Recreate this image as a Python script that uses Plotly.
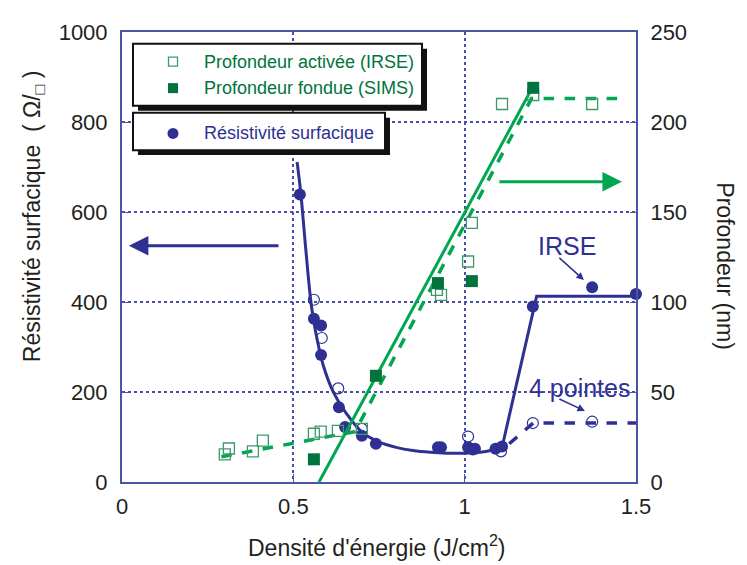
import plotly.graph_objects as go

# --- data ------------------------------------------------------------------
# sheet resistance, filled circles (IRSE)  [left axis, ohm/sq]
res_x = [0.519, 0.560, 0.581, 0.581, 0.633, 0.651, 0.700, 0.741, 0.922, 0.931,
         1.010, 1.024, 1.030, 1.090, 1.109, 1.199, 1.372, 1.500]
res_y = [639, 363, 348, 282, 166, 122, 103, 85, 77, 77,
         77, 72, 74, 74, 79, 390, 433, 418]

# sheet resistance, open circles (4 pointes)
res4_x = [0.560, 0.583, 0.631, 0.700, 1.010, 1.106, 1.199, 1.372]
res4_y = [405, 320, 208, 118, 101, 68, 131, 134]

# fitted curve for resistivity
curve_x = [0.511, 0.522, 0.536, 0.553, 0.570, 0.587, 0.616, 0.656, 0.703, 0.753,
           0.800, 0.849, 0.900, 0.948, 1.000, 1.045, 1.075, 1.110]
curve_y = [711, 640, 520, 390, 315, 260, 201, 151, 109, 88,
           77, 70, 66, 64, 64, 66, 70, 80]
step_x = [1.110, 1.210, 1.500]
step_y = [80, 413, 413]
step4_x = [1.130, 1.200, 1.500]
step4_y = [85, 131, 131]

# depth, open squares (IRSE)  [right axis, nm]
act_x = [0.300, 0.312, 0.382, 0.411, 0.560, 0.580, 0.630, 0.700, 0.919, 0.931,
         1.010, 1.021, 1.109, 1.200, 1.372]
act_y = [15.3, 18.6, 17, 23, 26.8, 28, 28.4, 29.5, 106.7, 104,
         122.5, 144, 210, 215, 210]

# depth, filled squares (SIMS)
melt_x = [0.560, 0.741, 0.922, 1.021, 1.200]
melt_y = [12.6, 59, 110.5, 111.6, 219]

# guide lines for depth
melt_line_x = [0.575, 1.200]
melt_line_y = [0, 220]
act_line_x = [0.290, 0.680, 1.195, 1.460]
act_line_y = [14, 28, 213, 213]

BLUE = '#2E3192'
GREEN = '#00A650'
DKGREEN = '#00743C'
SQGREEN = '#3C9A6A'
GRID = '#4650A8'
FONT = 'Liberation Sans, Arial, sans-serif'

fig = go.Figure()

# resistivity curves
fig.add_trace(go.Scatter(x=curve_x, y=curve_y, mode='lines', line=dict(color=BLUE, width=3, shape='spline'),
                         hoverinfo='skip'))
fig.add_trace(go.Scatter(x=step_x, y=step_y, mode='lines', line=dict(color=BLUE, width=3), hoverinfo='skip'))
fig.add_trace(go.Scatter(x=step4_x, y=step4_y, mode='lines', line=dict(color=BLUE, width=3.5, dash='dash'),
                         hoverinfo='skip'))

# depth lines
fig.add_trace(go.Scatter(x=act_line_x, y=act_line_y, yaxis='y2', mode='lines',
                         line=dict(color=GREEN, width=3.5, dash='dash'), hoverinfo='skip'))
fig.add_trace(go.Scatter(x=melt_line_x, y=melt_line_y, yaxis='y2', mode='lines',
                         line=dict(color=GREEN, width=3), hoverinfo='skip'))

# depth markers
fig.add_trace(go.Scatter(x=act_x, y=act_y, yaxis='y2', mode='markers', cliponaxis=False,
                         marker=dict(symbol='square-open', size=11, color=SQGREEN, line=dict(width=1.3))))
fig.add_trace(go.Scatter(x=melt_x, y=melt_y, yaxis='y2', mode='markers', cliponaxis=False,
                         marker=dict(symbol='square', size=12, color=DKGREEN)))

# resistivity markers
fig.add_trace(go.Scatter(x=res4_x, y=res4_y, mode='markers', cliponaxis=False,
                         marker=dict(symbol='circle-open', size=11, color=BLUE, line=dict(width=1.2))))
fig.add_trace(go.Scatter(x=res_x, y=res_y, mode='markers', cliponaxis=False,
                         marker=dict(symbol='circle', size=12, color=BLUE)))

# plot area in page pixels: x 122..636, y 25..482
def px(x):
    return (x - 122) / 514.0


def py(y):
    return (482 - y) / 457.0


shapes = []
# legend boxes with drop shadows
for (x0, y0, x1, y1) in [(133, 37, 422, 100), (133, 107, 385, 145)]:
    shapes.append(dict(type='rect', xref='paper', yref='paper', x0=px(x0 + 5), x1=px(x1 + 5),
                       y0=py(y1 + 5), y1=py(y0 + 5), fillcolor='#111111', line=dict(width=0)))
    shapes.append(dict(type='rect', xref='paper', yref='paper', x0=px(x0), x1=px(x1),
                       y0=py(y1), y1=py(y0), fillcolor='white', line=dict(color='#111111', width=2)))
# legend symbols
shapes.append(dict(type='rect', xref='paper', yref='paper', xsizemode='pixel', ysizemode='pixel',
                   xanchor=px(173), yanchor=py(55), x0=-4.5, x1=4.5, y0=-4.5, y1=4.5,
                   fillcolor='white', line=dict(color=SQGREEN, width=1.3)))
shapes.append(dict(type='rect', xref='paper', yref='paper', xsizemode='pixel', ysizemode='pixel',
                   xanchor=px(173), yanchor=py(82), x0=-5, x1=5, y0=-5, y1=5,
                   fillcolor=DKGREEN, line=dict(width=0)))
shapes.append(dict(type='circle', xref='paper', yref='paper', xsizemode='pixel', ysizemode='pixel',
                   xanchor=px(173), yanchor=py(128), x0=-5.5, x1=5.5, y0=-5.5, y1=5.5,
                   fillcolor=BLUE, line=dict(width=0)))

annotations = [
    dict(text='Profondeur activée (IRSE)', x=px(202), y=py(55), xref='paper', yref='paper',
         xanchor='left', yanchor='middle', showarrow=False, font=dict(size=18, color=DKGREEN)),
    dict(text='Profondeur fondue (SIMS)', x=px(202), y=py(82), xref='paper', yref='paper',
         xanchor='left', yanchor='middle', showarrow=False, font=dict(size=18, color=DKGREEN)),
    dict(text='Résistivité surfacique', x=px(202), y=py(128), xref='paper', yref='paper',
         xanchor='left', yanchor='middle', showarrow=False, font=dict(size=18, color=BLUE)),
    # big direction arrows
    dict(x=0.02, y=525, ax=0.461, ay=525, xref='x', yref='y', axref='x', ayref='y', text='',
         showarrow=True, arrowhead=2, arrowsize=1.3, arrowwidth=3, arrowcolor=BLUE),
    dict(x=1.459, y=667, ax=1.097, ay=667, xref='x', yref='y', axref='x', ayref='y', text='',
         showarrow=True, arrowhead=2, arrowsize=1.3, arrowwidth=3, arrowcolor=GREEN),
    # labels with pointers
    dict(x=1.348, y=449, ax=1.272, ay=501, xref='x', yref='y', axref='x', ayref='y', text='',
         showarrow=True, arrowhead=2, arrowsize=1, arrowwidth=1.5, arrowcolor=BLUE),
    dict(text='IRSE', x=1.30, y=524, xref='x', yref='y', showarrow=False,
         xanchor='center', yanchor='middle', font=dict(size=25, color=BLUE)),
    dict(x=1.351, y=158, ax=1.272, ay=186, xref='x', yref='y', axref='x', ayref='y', text='',
         showarrow=True, arrowhead=2, arrowsize=1, arrowwidth=1.5, arrowcolor=BLUE),
    dict(text='4 pointes', x=1.336, y=208, xref='x', yref='y', showarrow=False,
         xanchor='center', yanchor='middle', font=dict(size=25, color=BLUE)),
    # axis titles
    dict(text='Résistivité surfacique  ( Ω/<sub>□</sub> )', x=px(33), y=py(212), xref='paper', yref='paper',
         xanchor='center', yanchor='middle', textangle=-90, showarrow=False,
         font=dict(size=23, color='#231F20')),
    dict(text='Profondeur (nm)', x=px(725), y=py(262), xref='paper', yref='paper',
         xanchor='center', yanchor='middle', textangle=90, showarrow=False,
         font=dict(size=23, color='#231F20')),
    dict(text="Densité d'énergie (J/cm<sup>2</sup>)", x=px(377), y=py(547), xref='paper', yref='paper',
         xanchor='center', yanchor='middle', showarrow=False, font=dict(size=23, color='#231F20')),
]

# the page body adds an 8px offset, so margins are shifted to keep the plot at 122..636 x 25..482
fig.update_layout(
    width=747, height=565,
    margin=dict(l=114, r=119, t=17, b=91),
    paper_bgcolor='white', plot_bgcolor='white',
    showlegend=False,
    font=dict(family=FONT, size=22, color='#231F20'),
    xaxis=dict(range=[0, 1.5], tickvals=[0, 0.5, 1, 1.5], ticktext=['0', '0.5', '1', '1.5'],
               showgrid=True, gridcolor=GRID, griddash='dot', gridwidth=1.5, zeroline=False,
               showline=True, linecolor='#4B55A5', linewidth=2, mirror=True,
               ticks='inside', ticklen=8, tickcolor='#4B55A5', ticklabelstandoff=4),
    yaxis=dict(range=[0, 1000], tickvals=[0, 200, 400, 600, 800, 1000],
               showgrid=True, gridcolor=GRID, griddash='dot', gridwidth=1.5, zeroline=False,
               showline=True, linecolor='#4B55A5', linewidth=2, mirror=True,
               ticks='inside', ticklen=6, tickcolor='#4B55A5', ticklabelstandoff=8),
    yaxis2=dict(range=[0, 250], tickvals=[0, 50, 100, 150, 200, 250], overlaying='y', side='right',
                showgrid=False, zeroline=False, showline=True, linecolor='#4B55A5', linewidth=2,
                ticks='inside', ticklen=6, tickcolor='#4B55A5', ticklabelstandoff=8),
    shapes=shapes,
    annotations=annotations,
)

fig.write_html('out.html')
